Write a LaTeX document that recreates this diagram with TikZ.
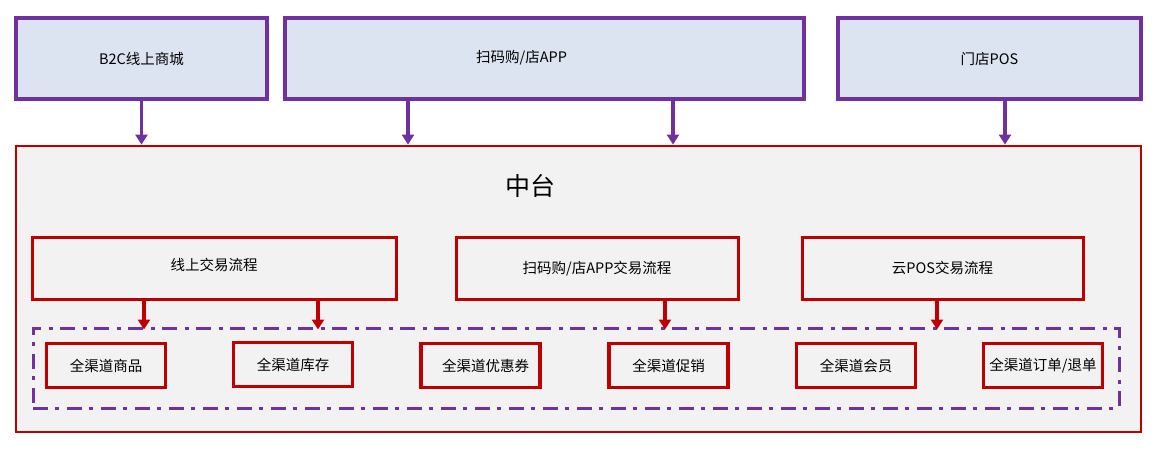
\documentclass[tikz,border=0pt]{standalone}
\usepackage{fontspec}
\setmainfont{Noto Sans CJK SC}
\usepackage{xcolor}
\definecolor{zpurple}{HTML}{7030A0}
\definecolor{zred}{HTML}{C00000}
\definecolor{zblue}{HTML}{DCE4F1}
\definecolor{zgray}{HTML}{F2F2F2}
\usetikzlibrary{calc, arrows.meta}

\begin{document}
\begin{tikzpicture}[x=1pt,y=-1pt,
    font=\fontsize{14.5}{17}\selectfont,
    topbox/.style={draw=zpurple,line width=3.2pt,fill=zblue,inner sep=0pt,minimum height=81pt},
    flowbox/.style={draw=zred,line width=3pt,fill=zgray,inner sep=0pt,minimum height=62pt},
    svcbox/.style={draw=zred,line width=3.2pt,fill=zgray,inner sep=0pt,minimum width=119pt,minimum height=44pt},
    parrow/.style={zpurple,line width=3.2pt,-{Triangle[width=12pt,length=10pt]}},
    rarrow/.style={zred,line width=3.2pt,-{Triangle[width=12pt,length=10pt]}}]
    \useasboundingbox (0,0) rectangle (1164,457);

    % front ends
    \node[topbox,minimum width=251pt] (b2c) at (141.5,58.5) {B2C线上商城};
    \node[topbox,minimum width=519pt,label={[xshift=-23pt,yshift=1pt]center:扫码购/店APP}] (app) at (544.5,58.5) {};
    \node[topbox,minimum width=303pt] (pos) at (989.5,58.5) {门店POS};

    % middle platform
    \node[draw=zred,line width=2.8pt,fill=zgray,minimum width=1125pt,minimum height=286pt] (zt) at (578.5,289) {};
    \node[font=\fontsize{25}{29}\selectfont] (title) at (530,186) {中台};

    \node[flowbox,minimum width=364pt,label={[yshift=4pt]center:线上交易流程}] (online) at (214,268.5) {};
    \node[flowbox,minimum width=282pt] (scan) at (597,268.5) {扫码购/店APP交易流程};
    \node[flowbox,minimum width=281pt] (cloud) at (942.5,268) {云POS交易流程};

    \node[draw=zpurple,line width=3pt,dash pattern=on 15pt off 7pt on 4pt off 8pt,minimum width=1086pt,minimum height=80pt] (grp) at (576,368) {};

    \node[svcbox] (goods) at (106,365.5) {全渠道商品};
    \node[svcbox] (stock) at (293,364.5) {全渠道库存};
    \node[svcbox] (coupon) at (480.5,365.5) {\hspace{10pt}全渠道优惠券};
    \node[svcbox] (promo) at (668.5,365.5) {全渠道促销};
    \node[svcbox] (member) at (856,365.5) {全渠道会员\hspace{10pt}};
    \node[svcbox] (order) at (1043,365.5) {全渠道订单/退单};

    % arrows
    \coordinate (t1) at (b2c.south);
    \coordinate (t2) at ($(app.south)+(-136.5,0)$);
    \coordinate (t3) at ($(app.south)+(128.5,0)$);
    \coordinate (t4) at ($(pos.south)+(15.5,0)$);
    \foreach \t in {t1,t2,t3,t4}
        \draw[parrow] (\t) -- (\t |- zt.north);

    \coordinate (f1) at ($(online.south)+(-70,0)$);
    \coordinate (f2) at ($(online.south)+(104,0)$);
    \coordinate (f3) at ($(scan.south)+(68,0)$);
    \coordinate (f4) at ($(cloud.south)+(-5.5,0)$);
    \foreach \f in {f1,f2,f3,f4}
        \draw[rarrow] (\f) -- ([yshift=-3pt]\f |- grp.north);
\end{tikzpicture}
\end{document}
